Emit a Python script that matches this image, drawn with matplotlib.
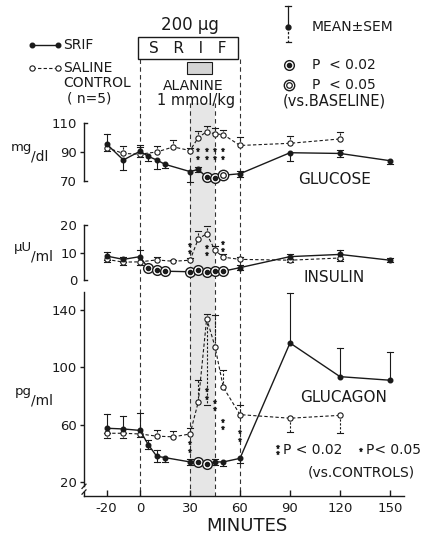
import matplotlib
matplotlib.use('Agg')
import matplotlib.pyplot as plt
import matplotlib.transforms as mtransforms
from matplotlib.patches import Rectangle

# ---------------- data ----------------
t_srif = [-20, -10, 0, 5, 10, 15, 30, 35, 40, 45, 50, 60, 90, 120, 150]
t_sal = [-20, -10, 0, 10, 20, 30, 35, 40, 45, 50, 60, 90, 120]

glu_srif = [95.5, 84.5, 90.5, 87, 84.5, 81.5, 76.5, 78, 72.5, 72, 74, 75, 89.5, 89, 84]
glu_srif_hi = [7, 0, 4, 0, 0, 0, 0, 2, 0, 0, 0, 2, 0, 2.5, 0]
glu_srif_lo = [0, 7, 4, 3, 6, 2.5, 7, 2, 2, 2, 2, 2, 6, 2.5, 2.5]
glu_srif_sig = [0, 0, 0, 0, 0, 0, 0, 0, 2, 2, 1, 0, 0, 0, 0]
glu_sal = [93, 89, 88.5, 90, 93.5, 91, 100, 104, 102.5, 102, 94.5, 96, 99]
glu_sal_hi = [0, 5, 5, 4, 5, 2, 4.5, 4, 4, 3, 6, 5, 5]
glu_sal_lo = [2, 0, 0, 0, 0, 0, 0, 0, 0, 0, 0, 0, 0]

ins_srif = [8.7, 7.5, 8.5, 4.2, 3.5, 3.2, 3.0, 3.5, 3.0, 3.2, 3.2, 4.5, 8.5, 9.3, 7.2]
ins_srif_hi = [1.5, 1, 2.5, 0.8, 0.8, 0.8, 0.8, 0.8, 0.8, 0.8, 0.8, 1, 1, 1.5, 0.7]
ins_srif_lo = [1.5, 1, 0, 0.8, 0.8, 0.8, 0.8, 0.8, 0, 0.8, 0.8, 1, 1, 1.5, 0.7]
ins_srif_sig = [0, 0, 0, 2, 2, 2, 2, 2, 2, 2, 2, 0, 0, 0, 0]
ins_sal = [7.5, 6.5, 6.6, 7.3, 6.8, 7.2, 15, 16.8, 10.8, 8.3, 7.5, 7.2, 8.0]
ins_sal_hi = [0, 0, 0, 1, 0.5, 0.8, 3, 3, 1.5, 1, 0.8, 0, 0]
ins_sal_lo = [1, 1, 1, 0, 0, 0, 0, 0, 0, 0, 0, 0.8, 1.2]

gcg_srif = [57.5, 57, 56, 46, 38, 37, 34, 34, 32.5, 34, 34, 36.5, 117, 93.5, 91]
gcg_srif_hi = [10, 9, 12, 3, 4, 0, 2, 0, 0, 2, 0, 0, 35, 20, 20]
gcg_srif_lo = [3, 3, 0, 3, 4, 3, 2, 0, 2, 2, 3, 3, 0, 0, 0]
gcg_srif_sig = [0, 0, 0, 0, 0, 0, 0, 2, 2, 0, 0, 0, 0, 0, 0]
gcg_sal = [54, 54, 53.5, 52, 51.5, 53.5, 76, 134, 114.5, 86, 67, 64.5, 66.5]
gcg_sal_hi = [0, 0, 0, 4, 4, 4, 15, 3, 22, 12, 7, 0, 0]
gcg_sal_lo = [3, 3, 2, 0, 0, 0, 0, 60, 0, 0, 0, 9.5, 12.5]

# significance vs controls (asterisk positions)
glu_star_t = [35, 35, 40, 40, 45, 45, 50, 50]
glu_star_v = [91.4, 86.1, 91.4, 86.1, 91.4, 86.1, 91.4, 86.1]
ins_star_t = [30, 30, 40, 40, 50, 50]
ins_star_v = [12.7, 10.3, 11.9, 9.5, 13.3, 10.9]
gcg_star_t = [30, 30, 40, 40, 45, 45, 50, 50, 60, 60]
gcg_star_v = [47.2, 41.6, 84.2, 78.6, 75.8, 70.9, 62.5, 57.7, 54.9, 49.3]

x_ticks = [-20, 0, 30, 60, 90, 120, 150]
glu_ticks = [70, 90, 110]
ins_ticks = [0, 10, 20]
gcg_ticks = [20, 60, 100, 140]

# ---------------- figure ----------------
W, H = 432, 534
K = '#1a1a1a'
FS = 10
fig = plt.figure(figsize=(W / 100, H / 100), dpi=100)

def fx(px):
    return px / W

def fy(py):
    return 1 - py / H

XL = (-33.6, 158.4)

ov = fig.add_axes([0, 0, 1, 1], zorder=0)
ov.set_xlim(0, W)
ov.set_ylim(H, 0)
ov.axis('off')

def make_ax(top, bottom, ylim):
    ax = fig.add_axes([fx(84), fy(bottom), (404 - 84) / W, (bottom - top) / H], zorder=2)
    ax.set_xlim(XL)
    ax.set_ylim(ylim)
    ax.patch.set_alpha(0)
    for s in ['top', 'right', 'bottom']:
        ax.spines[s].set_visible(False)
    ax.spines['left'].set_linewidth(1.0)
    ax.spines['left'].set_color(K)
    ax.set_xticks([])
    ax.tick_params(axis='y', direction='out', length=3, width=1.0, labelsize=9.5,
                   colors=K, pad=2)
    return ax

ax1 = make_ax(110, 190, (110 - (190 - 123) / 1.45, 110 + (123 - 110) / 1.45))
ax2 = make_ax(212, 290, (20 - (290 - 225) / 2.75, 20 + (225 - 212) / 2.75))
ax3 = make_ax(288, 496, (140 - (496 - 310) / 1.4333, 140 + (310 - 288) / 1.4333))

# bracket-style y axes
for ax, ticks in [(ax1, glu_ticks), (ax2, ins_ticks)]:
    ax.spines['left'].set_bounds(ticks[0], ticks[-1])
    ax.set_yticks(ticks)
    mt = ax.yaxis.get_major_ticks()
    mt[0].tick1line.set_visible(False)
    mt[-1].tick1line.set_visible(False)
    for v in (ticks[0], ticks[-1]):
        ax.plot([XL[0], XL[0] + 1.8], [v, v], color=K, lw=1.0, clip_on=False)

ax3.set_yticks(gcg_ticks)
ax3.spines['left'].set_bounds(17, 152.5)
ax3.plot([XL[0], XL[0]], [ax3.get_ylim()[0], 13], color=K, lw=1.0, clip_on=False)
ax3.plot([XL[0] - 1.2, XL[0] + 1.2], [15.5, 18.5], color=K, lw=0.9, clip_on=False)
ax3.plot([XL[0] - 1.2, XL[0] + 1.2], [11.5, 14.5], color=K, lw=0.9, clip_on=False)
ax3.spines['bottom'].set_visible(True)
ax3.spines['bottom'].set_linewidth(1.0)
ax3.spines['bottom'].set_color(K)
ax3.set_xticks(x_ticks)
ax3.set_xticklabels(['-20', '0', '30', '60', '90', '120', '150'])
ax3.tick_params(axis='x', direction='in', length=4, width=1.0, labelsize=9.5,
                colors=K, pad=4)

# shading and dashed guide lines (x in data, y in pixels)
bt = mtransforms.blended_transform_factory(ax3.transData, ov.transData)
ov.add_patch(Rectangle((30, 103), 15, 496 - 103, transform=bt, facecolor='#e6e6e6',
                       edgecolor='none', zorder=0))
for tv, y0 in [(0, 59), (60, 59), (30, 103), (45, 103)]:
    ov.plot([tv, tv], [y0, 496], transform=bt, color='#333333', lw=0.8, ls=(0, (4, 3)), zorder=1)

CAP = 1.8

def draw_series(ax, t, y, hi, lo, filled):
    if filled:
        ax.plot(t, y, '-', color=K, lw=1.0, marker='o', ms=3.3, mfc=K, mec=K, zorder=3)
        els = '-'
    else:
        ax.plot(t, y, color=K, lw=0.8, ls=(0, (3, 2)), marker='o', ms=3.8, mfc='white',
                mec=K, mew=0.8, zorder=3)
        els = (0, (2, 1.5))
    for ti, yi, h, l in zip(t, y, hi, lo):
        if h > 0:
            ax.plot([ti, ti], [yi, yi + h], color=K, lw=0.8, ls=els, zorder=2)
            ax.plot([ti - CAP, ti + CAP], [yi + h, yi + h], color=K, lw=0.8, zorder=2)
        if l > 0:
            ax.plot([ti, ti], [yi, yi - l], color=K, lw=0.8, ls=els, zorder=2)
            ax.plot([ti - CAP, ti + CAP], [yi - l, yi - l], color=K, lw=0.8, zorder=2)

def draw_sig(ax, t, y, sig):
    for ti, yi, s in zip(t, y, sig):
        if s == 2:
            ax.plot([ti], [yi], 'o', ms=7, mfc='white', mec=K, mew=1.0, zorder=4)
            ax.plot([ti], [yi], 'o', ms=3.0, color=K, zorder=5)
        elif s == 1:
            ax.plot([ti], [yi], 'o', ms=7.5, mfc='white', mec=K, mew=1.0, zorder=4)
            ax.plot([ti], [yi], 'o', ms=4.0, mfc='white', mec=K, mew=0.9, zorder=5)

def draw_stars(ax, t, v):
    ax.plot(t, v, ls='none', marker='*', ms=3.6, color=K, mew=0.3, zorder=3)

draw_series(ax1, t_sal, glu_sal, glu_sal_hi, glu_sal_lo, False)
draw_series(ax1, t_srif, glu_srif, glu_srif_hi, glu_srif_lo, True)
draw_sig(ax1, t_srif, glu_srif, glu_srif_sig)
draw_stars(ax1, glu_star_t, glu_star_v)

draw_series(ax2, t_sal, ins_sal, ins_sal_hi, ins_sal_lo, False)
draw_series(ax2, t_srif, ins_srif, ins_srif_hi, ins_srif_lo, True)
draw_sig(ax2, t_srif, ins_srif, ins_srif_sig)
draw_stars(ax2, ins_star_t, ins_star_v)

draw_series(ax3, t_sal, gcg_sal, gcg_sal_hi, gcg_sal_lo, False)
draw_series(ax3, t_srif, gcg_srif, gcg_srif_hi, gcg_srif_lo, True)
draw_sig(ax3, t_srif, gcg_srif, gcg_srif_sig)
draw_stars(ax3, gcg_star_t, gcg_star_v)

# ---------------- annotations ----------------
def T(x, y, s, fs=FS, ha='left', va='center'):
    ov.text(x, y, s, fontsize=fs, ha=ha, va=va, color=K)

T(190, 25, '200 μg', fs=12, ha='center')
ov.add_patch(Rectangle((138, 37), 100, 22, facecolor='white', edgecolor=K, lw=1.0, zorder=2))
T(188, 48.5, 'S   R   I   F', fs=11, ha='center')
ov.add_patch(Rectangle((187, 62), 25, 12, facecolor='#d4d4d4', edgecolor=K, lw=0.8, zorder=2))
T(193, 86, 'ALANINE', ha='center')
T(196, 100, '1 mmol/kg', fs=10.5, ha='center')

# left legend
ov.plot([32, 58], [45, 45], '-', color=K, lw=1.0, marker='o', ms=3.3, mfc=K)
T(63, 45, 'SRIF')
ov.plot([32, 58], [68, 68], color=K, lw=0.8, ls=(0, (3, 2)), marker='o', ms=3.8,
        mfc='white', mec=K, mew=0.8)
T(63, 68, 'SALINE')
T(63, 83, 'CONTROL')
T(67, 99, '( n=5)')

# right legend
ov.plot([288, 288], [6, 27], color=K, lw=0.9)
ov.plot([285, 291], [6, 6], color=K, lw=0.9)
ov.plot([288, 288], [27, 42], color=K, lw=0.9, ls=(0, (2, 1.5)))
ov.plot([285.5, 290.5], [42, 42], color=K, lw=0.9)
ov.plot([288], [27], 'o', ms=3.5, color=K)
T(312, 27, 'MEAN±SEM')
ov.plot([289], [65], 'o', ms=7, mfc='white', mec=K, mew=1.0)
ov.plot([289], [65], 'o', ms=3.0, color=K)
T(312, 65, 'P  < 0.02')
ov.plot([289], [85], 'o', ms=7.5, mfc='white', mec=K, mew=1.0)
ov.plot([289], [85], 'o', ms=4.0, mfc='white', mec=K, mew=0.9)
T(312, 85, 'P  < 0.05')
T(283, 101, '(vs.BASELINE)', fs=10.5)

# panel labels
T(335, 180, 'GLUCOSE', fs=11, ha='center')
T(334, 278, 'INSULIN', fs=11, ha='center')
T(344, 398, 'GLUCAGON', fs=11, ha='center')

# units
T(32, 147, 'mg', fs=9.5, ha='right')
T(31, 156, '/dl', fs=10)
T(32, 248, 'μU', fs=9.5, ha='right')
T(31, 257, '/ml', fs=10)
T(32, 391, 'pg', fs=9.5, ha='right')
T(31, 400, '/ml', fs=10)

# bottom legend
ov.plot([278, 278], [447, 453], ls='none', marker='*', ms=3.6, color=K, mew=0.3)
T(283, 450, 'P < 0.02')
ov.plot([361], [450], ls='none', marker='*', ms=3.6, color=K, mew=0.3)
T(366, 450, 'P< 0.05')
T(361, 472, '(vs.CONTROLS)', ha='center')

T(247, 526, 'MINUTES', fs=13, ha='center')

fig.savefig('out.png', dpi=100)
